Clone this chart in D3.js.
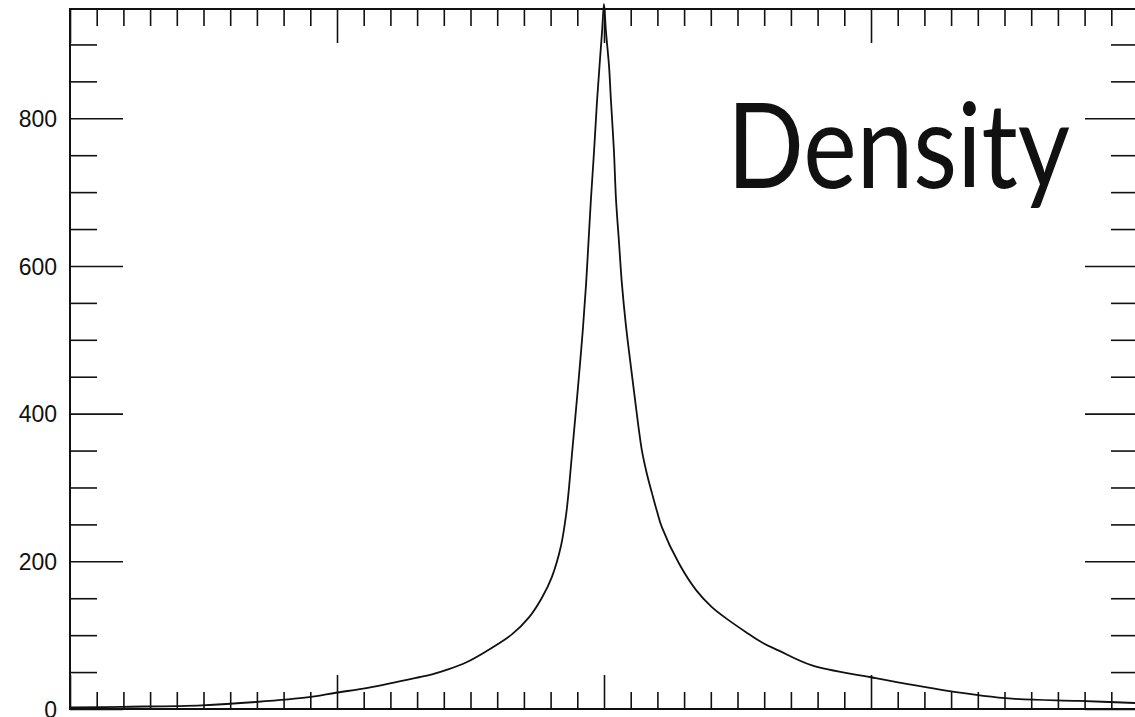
<!DOCTYPE html>
<html>
<head>
<meta charset="utf-8">
<script src="https://cdn.jsdelivr.net/npm/d3@7"></script>
<style>
  html, body { margin: 0; padding: 0; background: #fff; overflow: hidden; }
  svg { display: block; }
</style>
</head>
<body>
<svg id="chart" width="1135" height="717"></svg>
<script>
// Sampled density profile: position along the axis and density value
const xValues = [
  -2.000, -1.805, -1.506, -1.303, -1.105, -1.004, -0.880, -0.693, -0.644, -0.581,
  -0.517, -0.442, -0.345, -0.281, -0.232, -0.195, -0.161, -0.142, -0.131, -0.120,
  -0.105, -0.094, -0.079, -0.067, -0.058, -0.049, -0.037, -0.026, -0.015, -0.007,
  0.000,
  0.007, 0.019, 0.026, 0.037, 0.045, 0.056, 0.067, 0.082, 0.101, 0.120,
  0.131, 0.142, 0.161, 0.180, 0.199, 0.217, 0.281, 0.345, 0.404, 0.468,
  0.532, 0.592, 0.655, 0.779, 1.000, 1.281, 1.528, 1.779, 2.000
];
const densityValues = [
  2, 3, 5, 9.5, 16, 22, 29, 43, 47, 54,
  63, 78, 101, 124, 151, 179, 221, 263, 300, 345,
  405, 450, 515, 576, 633, 690, 757, 824, 880, 919,
  955,
  919, 870, 824, 757, 690, 633, 576, 520, 463, 408,
  377, 350, 318, 292, 267, 246, 197, 161, 138, 120,
  104, 90, 79, 59, 43, 25, 14, 11, 8
];

// Axis settings
const xDomain = [-2, 2];
const yDomain = [0, 948];
const xMajorTicks = [-2, -1, 0, 1, 2];
const xMinorStep = 0.1;
const yMajorTicks = [0, 200, 400, 600, 800];
const yMinorStep = 50;
const titleText = "Density";

const svg = d3.select("#chart");
const margin = { left: 70, right: 1138, top: 9, bottom: 709 };

const x = d3.scaleLinear().domain(xDomain).range([margin.left, margin.right]);
const y = d3.scaleLinear().domain(yDomain).range([margin.bottom, margin.top]);

const xMinor = d3.range(xDomain[0], xDomain[1] + 1e-9, xMinorStep)
  .map(v => +v.toFixed(4))
  .filter(v => !xMajorTicks.some(m => Math.abs(m - v) < 1e-6));
const yMinor = d3.range(yDomain[0], yDomain[1], yMinorStep)
  .filter(v => !yMajorTicks.includes(v));

const axisStyle = g => {
  g.select(".domain").remove();
  g.selectAll(".tick line").attr("stroke", "#111").attr("stroke-width", 1.6);
};

// Bottom axis: minor then major ticks (no labels)
svg.append("g").attr("transform", `translate(0,${margin.bottom})`)
  .call(d3.axisTop(x).tickValues(xMinor).tickSize(17).tickFormat(""))
  .call(axisStyle);
svg.append("g").attr("transform", `translate(0,${margin.bottom})`)
  .call(d3.axisTop(x).tickValues(xMajorTicks).tickSize(34).tickFormat(""))
  .call(axisStyle);

// Top axis
svg.append("g").attr("transform", `translate(0,${margin.top})`)
  .call(d3.axisBottom(x).tickValues(xMinor).tickSize(17).tickFormat(""))
  .call(axisStyle);
svg.append("g").attr("transform", `translate(0,${margin.top})`)
  .call(d3.axisBottom(x).tickValues(xMajorTicks).tickSize(34).tickFormat(""))
  .call(axisStyle);

// Left axis with labels
svg.append("g").attr("transform", `translate(${margin.left},0)`)
  .call(d3.axisRight(y).tickValues(yMinor).tickSize(27).tickFormat(""))
  .call(axisStyle);
const leftMajor = svg.append("g").attr("transform", `translate(${margin.left},0)`)
  .call(d3.axisRight(y).tickValues(yMajorTicks).tickSize(53).tickFormat(d3.format("d")))
  .call(axisStyle);
leftMajor.selectAll(".tick text")
  .attr("x", -13)
  .attr("dy", "0.36em")
  .attr("text-anchor", "end")
  .attr("fill", "#111")
  .style("font-family", "'Liberation Sans', Arial, Helvetica, sans-serif")
  .style("font-size", "23px");

// Right axis
svg.append("g").attr("transform", `translate(${margin.right},0)`)
  .call(d3.axisLeft(y).tickValues(yMinor).tickSize(27).tickFormat(""))
  .call(axisStyle);
svg.append("g").attr("transform", `translate(${margin.right},0)`)
  .call(d3.axisLeft(y).tickValues(yMajorTicks).tickSize(53).tickFormat(""))
  .call(axisStyle);

// Plot frame
svg.append("rect")
  .attr("x", margin.left).attr("y", margin.top)
  .attr("width", margin.right - margin.left)
  .attr("height", margin.bottom - margin.top)
  .attr("fill", "none").attr("stroke", "#111").attr("stroke-width", 2);

// Density curve
const points = xValues.map((v, i) => [v, densityValues[i]]);
const line = d3.line()
  .x(d => x(d[0]))
  .y(d => y(d[1]))
  .curve(d3.curveCatmullRom.alpha(0.5));
svg.append("path")
  .datum(points)
  .attr("d", line)
  .attr("fill", "none")
  .attr("stroke", "#111")
  .attr("stroke-width", 1.8)
  .attr("stroke-linejoin", "round");

// Title inside the plot
svg.append("text")
  .attr("x", 727)
  .attr("y", 188)
  .attr("textLength", 343)
  .attr("lengthAdjust", "spacingAndGlyphs")
  .style("font-family", "Lato, 'Open Sans', sans-serif")
  .style("font-size", "118px")
  .attr("fill", "#111")
  .text(titleText);
</script>
</body>
</html>
